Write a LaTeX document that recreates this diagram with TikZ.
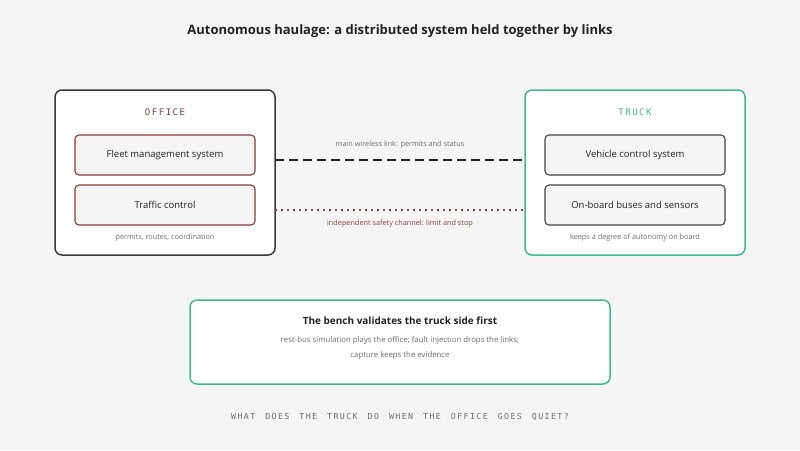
\documentclass[tikz,border=0pt]{standalone}
\usepackage{fontspec}
\setmainfont{Open Sans}
\setmonofont{DejaVu Sans Mono}
\definecolor{bg}{HTML}{F5F5F5}
\definecolor{ink}{HTML}{222222}
\definecolor{rust}{HTML}{8A3B36}
\definecolor{grn}{HTML}{3DBB8C}
\definecolor{mut}{HTML}{6E6E6E}
\begin{document}
\begin{tikzpicture}[x=1pt,y=-1pt,
  outer/.style={draw, line width=1.5pt, rounded corners=7pt, fill=white},
  inner/.style={draw, line width=1.1pt, rounded corners=4pt, fill=bg, minimum width=180pt, minimum height=40pt, font=\fontsize{9.5}{12}\selectfont, text=ink},
  smalltxt/.style={font=\fontsize{7.3}{9}\selectfont, text=mut},
  lbl/.style={font=\ttfamily\fontsize{9}{11}\selectfont}]
\fill[bg] (0,0) rectangle (800,450);
\node[font=\bfseries\fontsize{13}{16}\selectfont, text=ink] (title) at (400,31) {Autonomous haulage: a distributed system held together by links};
\node[outer, draw=ink!90, minimum width=220pt, minimum height=165pt] (office) at (165,172.5) {};
\node[outer, draw=grn, minimum width=220pt, minimum height=165pt] (truck) at (635,172.5) {};
\node[lbl, text=rust] (ol) at (165,112) {O\,F\,F\,I\,C\,E};
\node[lbl, text=grn] (tl) at (635,112) {T\,R\,U\,C\,K};
\node[inner, draw=rust] (fms) at (165,155) {Fleet management system};
\node[inner, draw=rust] (tc) at (165,205) {Traffic control};
\node[inner, draw=ink!85] (vcs) at (635,155) {Vehicle control system};
\node[inner, draw=ink!85] (obs) at (635,205) {On-board buses and sensors};
\node[smalltxt] (oc) at (165,238) {permits, routes, coordination};
\node[smalltxt] (tcap) at (635,238) {keeps a degree of autonomy on board};
\coordinate (a1) at (275,160); \coordinate (a2) at (525,160);
\coordinate (b1) at (275,210); \coordinate (b2) at (525,210);
\draw[ink, line width=2pt, dash pattern=on 9pt off 5pt] (a1) -- (a2);
\draw[rust, line width=2pt, dash pattern=on 2pt off 4pt] (b1) -- (b2);
\node[smalltxt, text=mut] (ml) at (400,145) {main wireless link: permits and status};
\node[smalltxt, text=rust] (sl) at (400,224) {independent safety channel: limit and stop};
\node[outer, draw=grn, minimum width=420pt, minimum height=84pt] (bench) at (400,342) {};
\node[font=\bfseries\fontsize{10}{12}\selectfont, text=ink] (bt) at (400,321) {The bench validates the truck side first};
\node[font=\fontsize{7.8}{14.5}\selectfont, text=mut, align=center] (bs) at (400,348) {rest-bus simulation plays the office; fault injection drops the links;\\capture keeps the evidence};
\node[font=\ttfamily\fontsize{8.3}{10}\selectfont, text=mut] (q) at (400,417) {W\,H\,A\,T\ \ D\,O\,E\,S\ \ T\,H\,E\ \ T\,R\,U\,C\,K\ \ D\,O\ \ W\,H\,E\,N\ \ T\,H\,E\ \ O\,F\,F\,I\,C\,E\ \ G\,O\,E\,S\ \ Q\,U\,I\,E\,T\,?};
\end{tikzpicture}
\end{document}
